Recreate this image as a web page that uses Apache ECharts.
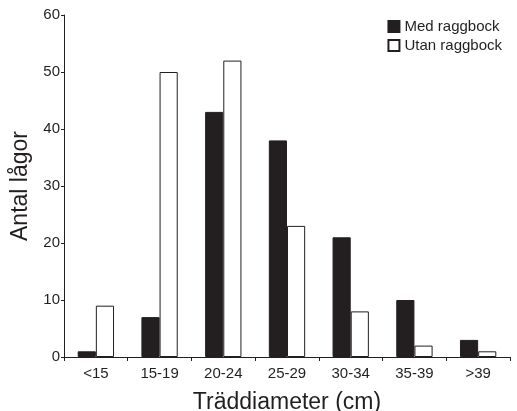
<!DOCTYPE html>
<html>
<head>
<meta charset="utf-8">
<script src="https://cdn.jsdelivr.net/npm/echarts@6/dist/echarts.min.js"></script>
<style>
html,body{margin:0;padding:0;background:#fff;}
#chart{width:517px;height:411px;}
</style>
</head>
<body>
<div id="chart"></div>
<script>
var categories = ['<15', '15-19', '20-24', '25-29', '30-34', '35-39', '>39'];
var medRaggbock = [1, 7, 43, 38, 21, 10, 3];
var utanRaggbock = [9, 50, 52, 23, 8, 2, 1];
var yTicks = [0, 10, 20, 30, 40, 50, 60];

var FONT = '"Liberation Sans", Arial, sans-serif';
var chart = echarts.init(document.getElementById('chart'));

var option = {
    backgroundColor: '#ffffff',
    animation: false,
    textStyle: {fontFamily: FONT, color: '#231f20'},
    legend: {
        orient: 'vertical',
        right: 10,
        top: 14,
        itemWidth: 11,
        itemHeight: 11,
        itemGap: 4,
        icon: 'rect',
        textStyle: {fontFamily: FONT, fontSize: 15, color: '#231f20'},
        data: ['Med raggbock', 'Utan raggbock']
    },
    grid: {left: 64, right: 7, top: 15, bottom: 54, outerBoundsMode: 'none'},
    xAxis: {
        type: 'category',
        data: categories,
        name: 'Träddiameter (cm)',
        nameLocation: 'middle',
        nameGap: 34,
        nameTextStyle: {fontFamily: FONT, fontSize: 23, color: '#231f20'},
        axisLine: {lineStyle: {color: '#231f20', width: 1}},
        axisTick: {show: true, length: 4, lineStyle: {color: '#231f20'}},
        axisLabel: {fontFamily: FONT, fontSize: 15, color: '#231f20', margin: 9}
    },
    yAxis: {
        type: 'value',
        min: yTicks[0],
        max: yTicks[yTicks.length - 1],
        interval: 10,
        name: 'Antal lågor',
        nameLocation: 'middle',
        nameGap: 28,
        nameTextStyle: {fontFamily: FONT, fontSize: 23, color: '#231f20'},
        splitLine: {show: false},
        axisLine: {show: true, lineStyle: {color: '#231f20', width: 1}},
        axisTick: {show: true, length: 3, lineStyle: {color: '#231f20'}},
        axisLabel: {fontFamily: FONT, fontSize: 15, color: '#231f20', margin: 4}
    },
    series: [
        {
            name: 'Med raggbock',
            type: 'bar',
            data: medRaggbock,
            barGap: '0%',
            barCategoryGap: '43%',
            itemStyle: {color: '#231f20', borderColor: '#231f20', borderWidth: 1}
        },
        {
            name: 'Utan raggbock',
            type: 'bar',
            data: utanRaggbock,
            itemStyle: {color: '#ffffff', borderColor: '#231f20', borderWidth: 1}
        }
    ]
};
chart.setOption(option);
</script>
</body>
</html>
